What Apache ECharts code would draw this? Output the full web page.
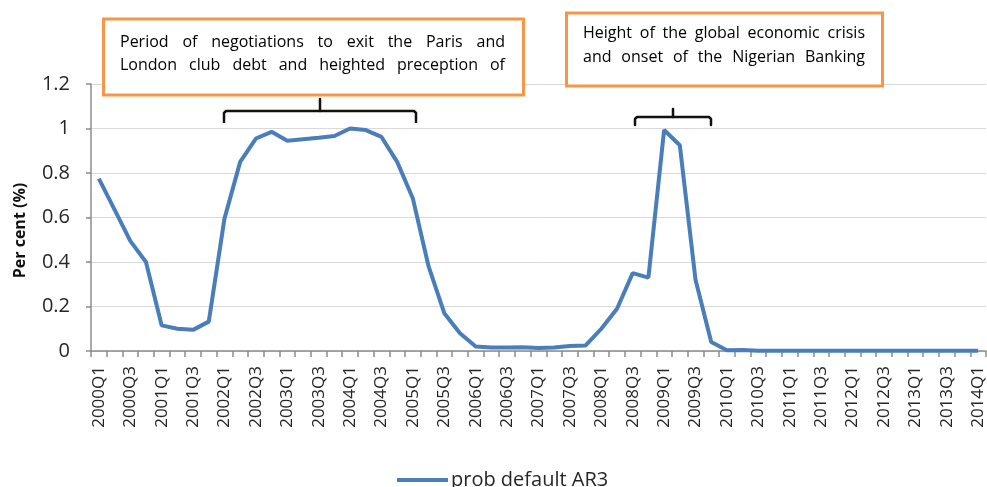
<!DOCTYPE html>
<html>
<head>
<meta charset="utf-8">
<script src="https://cdn.jsdelivr.net/npm/echarts@6/dist/echarts.min.js"></script>
<style>
  html, body { margin: 0; padding: 0; background: #fff; }
  #chart { width: 987px; height: 487px; }
</style>
</head>
<body>
<div id="chart"></div>
<script>
  // quarters 2000Q1 .. 2014Q1
  const quarters = []
  for (let y = 2000; y <= 2014; y++) {
    for (let q = 1; q <= 4; q++) {
      if (y === 2014 && q > 1) break
      quarters.push(y + 'Q' + q)
    }
  }

  const probDefault = [
    0.775, 0.635, 0.495, 0.40, 0.115, 0.10, 0.095, 0.132,
    0.595, 0.85, 0.955, 0.985, 0.945, 0.952, 0.958, 0.966,
    1.0, 0.993, 0.962, 0.85, 0.685, 0.38, 0.17, 0.08,
    0.02, 0.016, 0.016, 0.017, 0.013, 0.016, 0.022, 0.025,
    0.10, 0.19, 0.35, 0.33, 0.993, 0.925, 0.32, 0.04,
    0.003, 0.004, 0.001, 0.001, 0.001, 0.001, 0.001, 0.001,
    0.001, 0.001, 0.001, 0.001, 0.001, 0.001, 0.001, 0.001,
    0.001
  ]

  const seriesName = 'prob default AR3'
  const yTicks = [0, 0.2, 0.4, 0.6, 0.8, 1, 1.2]

  const note1 = ['Period of negotiations to exit the Paris and', 'London club debt and heighted preception of']
  const note2 = ['Height of the global economic crisis', 'and onset of the Nigerian Banking']

  const font = '"Open Sans", "DejaVu Sans", sans-serif'
  const orange = '#F79646'
  const blue = '#4A7EBB'

  const ctx = document.createElement('canvas').getContext('2d')

  // spread words of one line between x0 and x1 (justified)
  function justify(line, x0, x1, y, size) {
    ctx.font = size + 'px ' + font
    const words = line.split(' ')
    const widths = words.map(w => ctx.measureText(w).width)
    const total = widths.reduce((a, b) => a + b, 0)
    const gap = words.length > 1 ? (x1 - x0 - total) / (words.length - 1) : 0
    const out = []
    let x = x0
    words.forEach((w, i) => {
      out.push({
        type: 'text',
        x: x,
        y: y,
        style: {
          text: w,
          font: size + 'px ' + font,
          fill: '#000',
          textAlign: 'left',
          textVerticalAlign: 'middle'
        },
        z: 10
      })
      x += widths[i] + gap
    })
    return out
  }

  // curly-ish bracket: two corners + middle tick
  function brace(xl, xr, xm, yh, ybot, ytop) {
    const st = { stroke: '#111', lineWidth: 2.5, fill: null, lineJoin: 'round', lineCap: 'round' }
    return [
      {
        type: 'polyline',
        shape: { points: [[xl, ybot], [xl, yh + 2], [xl + 2, yh], [xr - 2, yh], [xr, yh + 2], [xr, ybot]] },
        style: st,
        z: 10
      },
      {
        type: 'polyline',
        shape: { points: [[xm, yh], [xm, ytop]] },
        style: st,
        z: 10
      }
    ]
  }

  const graphics = [
    {
      type: 'rect',
      shape: { x: 103.5, y: 19, width: 420, height: 76 },
      style: { fill: '#fff', stroke: orange, lineWidth: 3 },
      z: 9
    },
    {
      type: 'rect',
      shape: { x: 566.5, y: 13, width: 316, height: 73 },
      style: { fill: '#fff', stroke: orange, lineWidth: 3 },
      z: 9
    }
  ]
    .concat(brace(224, 416, 320, 111, 122, 99))
    .concat(brace(635, 711, 673, 117, 125, 109))
    .concat(justify(note1[0], 120, 505, 42, 16))
    .concat(justify(note1[1], 120, 505, 65, 16))
    .concat(justify(note2[0], 583, 865, 33, 16))
    .concat(justify(note2[1], 583, 865, 57, 16))

  const chart = echarts.init(document.getElementById('chart'))
  chart.setOption({
    animation: false,
    backgroundColor: '#fff',
    textStyle: { fontFamily: font },
    grid: { left: 91, right: 1, top: 84, bottom: 136, containLabel: false, outerBoundsMode: 'none' },
    legend: {
      data: [seriesName],
      left: 392,
      top: 465,
      icon: 'rect',
      itemWidth: 51,
      itemHeight: 4,
      textStyle: { fontSize: 20, color: '#262626', padding: [0, 0, 0, -2] }
    },
    xAxis: {
      type: 'category',
      data: quarters,
      boundaryGap: true,
      axisLine: { lineStyle: { color: '#8c8c8c', width: 1.5 } },
      axisTick: { show: true, interval: 0, length: 6, lineStyle: { color: '#8c8c8c', width: 1.5 } },
      axisLabel: { interval: 1, rotate: 90, margin: 15, fontSize: 17, color: '#262626' },
      splitLine: { show: false }
    },
    yAxis: {
      type: 'value',
      min: yTicks[0],
      max: yTicks[yTicks.length - 1],
      interval: 0.2,
      name: 'Per cent (%)',
      nameLocation: 'middle',
      nameRotate: 90,
      nameGap: 63,
      nameTextStyle: { fontSize: 16, fontWeight: 'bold', color: '#111', padding: [0, 26, 0, 0] },
      axisLine: { show: true, lineStyle: { color: '#8c8c8c', width: 1.5 } },
      axisTick: { show: true, length: 5, lineStyle: { color: '#8c8c8c', width: 1.5 } },
      axisLabel: {
        margin: 21, fontSize: 20, color: '#262626',
        formatter: v => String(Math.round(v * 10) / 10)
      },
      splitLine: { lineStyle: { color: '#d9d9d9', width: 1 } }
    },
    series: [{
      name: seriesName,
      type: 'line',
      data: probDefault,
      showSymbol: false,
      symbol: 'none',
      lineStyle: { color: blue, width: 4 },
      itemStyle: { color: blue }
    }],
    graphic: graphics
  })
</script>
</body>
</html>
